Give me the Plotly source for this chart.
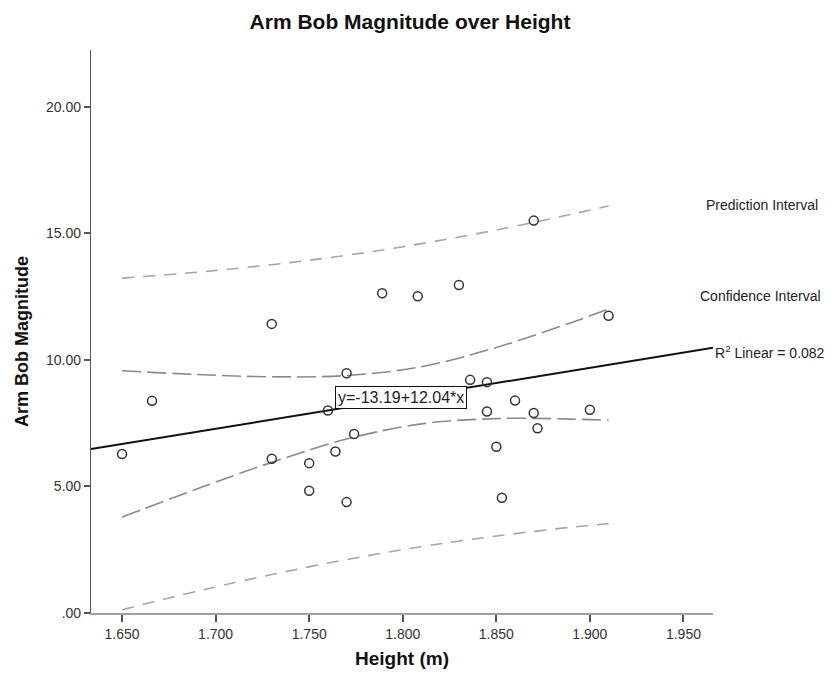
import plotly.graph_objects as go

# Observations: height (m) vs arm bob magnitude
height_m = [1.650, 1.666, 1.730, 1.730, 1.750, 1.750, 1.764, 1.760, 1.770,
            1.774, 1.770, 1.789, 1.808, 1.830, 1.870, 1.910, 1.836, 1.845,
            1.860, 1.845, 1.870, 1.900, 1.872, 1.850, 1.853]
arm_bob = [6.28, 8.38, 11.42, 6.09, 5.92, 4.83, 6.38, 8.00, 9.47,
           7.07, 4.38, 12.63, 12.51, 12.96, 15.50, 11.74, 9.21, 9.12,
           8.39, 7.96, 7.90, 8.03, 7.30, 6.57, 4.55]

# Linear fit: y = intercept + slope * x
fit_intercept = -13.19
fit_slope = 12.04
fit_r2 = 0.082

# 95% confidence / prediction bands of the fit
band_x = [1.650, 1.690, 1.730, 1.770, 1.810, 1.850, 1.890, 1.910]
ci_upper = [9.57, 9.42, 9.33, 9.38, 9.73, 10.49, 11.47, 12.01]
ci_lower = [3.79, 4.90, 5.95, 6.87, 7.47, 7.68, 7.66, 7.61]
pi_upper = [13.23, 13.46, 13.76, 14.13, 14.59, 15.13, 15.75, 16.08]
pi_lower = [0.13, 0.86, 1.52, 2.11, 2.62, 3.04, 3.39, 3.53]

x_tickvals = [1.65, 1.70, 1.75, 1.80, 1.85, 1.90, 1.95]
x_ticktext = ["1.650", "1.700", "1.750", "1.800", "1.850", "1.900", "1.950"]
y_tickvals = [0, 5, 10, 15, 20]
y_ticktext = [".00", "5.00", "10.00", "15.00", "20.00"]

x_range = [1.6334, 1.9658]
y_range = [0, 22.24]

FONT = "Liberation Sans, Arial, sans-serif"

fig = go.Figure()

pi_style = dict(color="#a6a6a6", width=1.6, dash="12px,9px", shape="spline")
ci_style = dict(color="#8a8a8a", width=1.6, dash="19px,6px", shape="spline")

fig.add_trace(go.Scatter(x=band_x, y=pi_upper, mode="lines", line=pi_style,
                         hoverinfo="skip", showlegend=False))
fig.add_trace(go.Scatter(x=band_x, y=pi_lower, mode="lines", line=pi_style,
                         hoverinfo="skip", showlegend=False))
fig.add_trace(go.Scatter(x=band_x, y=ci_upper, mode="lines", line=ci_style,
                         hoverinfo="skip", showlegend=False))
fig.add_trace(go.Scatter(x=band_x, y=ci_lower, mode="lines", line=ci_style,
                         hoverinfo="skip", showlegend=False))

fit_x = list(x_range)
fit_y = [fit_intercept + fit_slope * v for v in fit_x]
fig.add_trace(go.Scatter(x=fit_x, y=fit_y, mode="lines",
                         line=dict(color="#111111", width=2),
                         showlegend=False))

fig.add_trace(go.Scatter(x=height_m, y=arm_bob, mode="markers",
                         marker=dict(symbol="circle-open", size=9,
                                     color="#333333", line=dict(width=1.5)),
                         showlegend=False))

# Equation box sitting on the fit line
eq_x = 1.764
fig.add_annotation(x=eq_x, y=fit_intercept + fit_slope * eq_x,
                   xanchor="left", yanchor="bottom",
                   text=f"y={fit_intercept:.2f}+{fit_slope:.2f}*x",
                   showarrow=False, bgcolor="white", bordercolor="#111111",
                   borderwidth=1, borderpad=2,
                   font=dict(family=FONT, size=16, color="#222222"))

# Right-hand labels
plot_l, plot_r, plot_t, plot_b = 91, 713, 50, 613


def px_x(px):
    return (px - plot_l) / (plot_r - plot_l)


def px_y(py):
    return (plot_b - py) / (plot_b - plot_t)


fig.add_annotation(xref="paper", yref="paper", x=px_x(762), y=px_y(205),
                   text="Prediction Interval", showarrow=False,
                   xanchor="center", yanchor="middle",
                   font=dict(family=FONT, size=14, color="#222222"))
fig.add_annotation(xref="paper", yref="paper", x=px_x(760), y=px_y(296),
                   text="Confidence Interval", showarrow=False,
                   xanchor="center", yanchor="middle",
                   font=dict(family=FONT, size=14, color="#222222"))
fig.add_annotation(xref="paper", yref="paper", x=px_x(713), y=px_y(352),
                   text=f"R<sup>2</sup> Linear = {fit_r2:.3f}", showarrow=False,
                   xanchor="left", yanchor="middle",
                   font=dict(family=FONT, size=14, color="#222222"))

# Vertical axis title
fig.add_annotation(xref="paper", yref="paper", x=px_x(22), y=px_y(342),
                   text="Arm Bob Magnitude", textangle=-90, showarrow=False,
                   xanchor="center", yanchor="middle",
                   font=dict(family=FONT, size=18, color="#111111",
                             weight="bold"))

fig.update_layout(
    width=831, height=674,
    margin=dict(l=plot_l, r=831 - plot_r, t=plot_t, b=674 - plot_b),
    paper_bgcolor="white", plot_bgcolor="white",
    font=dict(family=FONT, color="#222222"),
    title=dict(text="Arm Bob Magnitude over Height", x=410 / 831,
               xanchor="center", y=1 - 22 / 674, yanchor="middle",
               font=dict(family=FONT, size=21, color="#111111", weight="bold")),
    xaxis=dict(range=x_range, tickvals=x_tickvals, ticktext=x_ticktext,
               showgrid=False, zeroline=False, showline=True,
               linecolor="#a0a0a0", linewidth=2, ticks="outside",
               ticklen=7, tickwidth=1.5, tickcolor="#555555",
               tickfont=dict(family=FONT, size=14, color="#333333"),
               title=dict(text="Height (m)", standoff=11,
                          font=dict(family=FONT, size=19, color="#111111",
                                    weight="bold")),
               automargin=False),
    yaxis=dict(range=y_range, tickvals=y_tickvals, ticktext=y_ticktext,
               showgrid=False, zeroline=False, showline=True,
               linecolor="#555555", linewidth=1.2, ticks="outside",
               ticklen=6, tickwidth=1.5, tickcolor="#555555",
               tickfont=dict(family=FONT, size=14, color="#333333"),
               automargin=False),
)

fig.write_html("out.html")
